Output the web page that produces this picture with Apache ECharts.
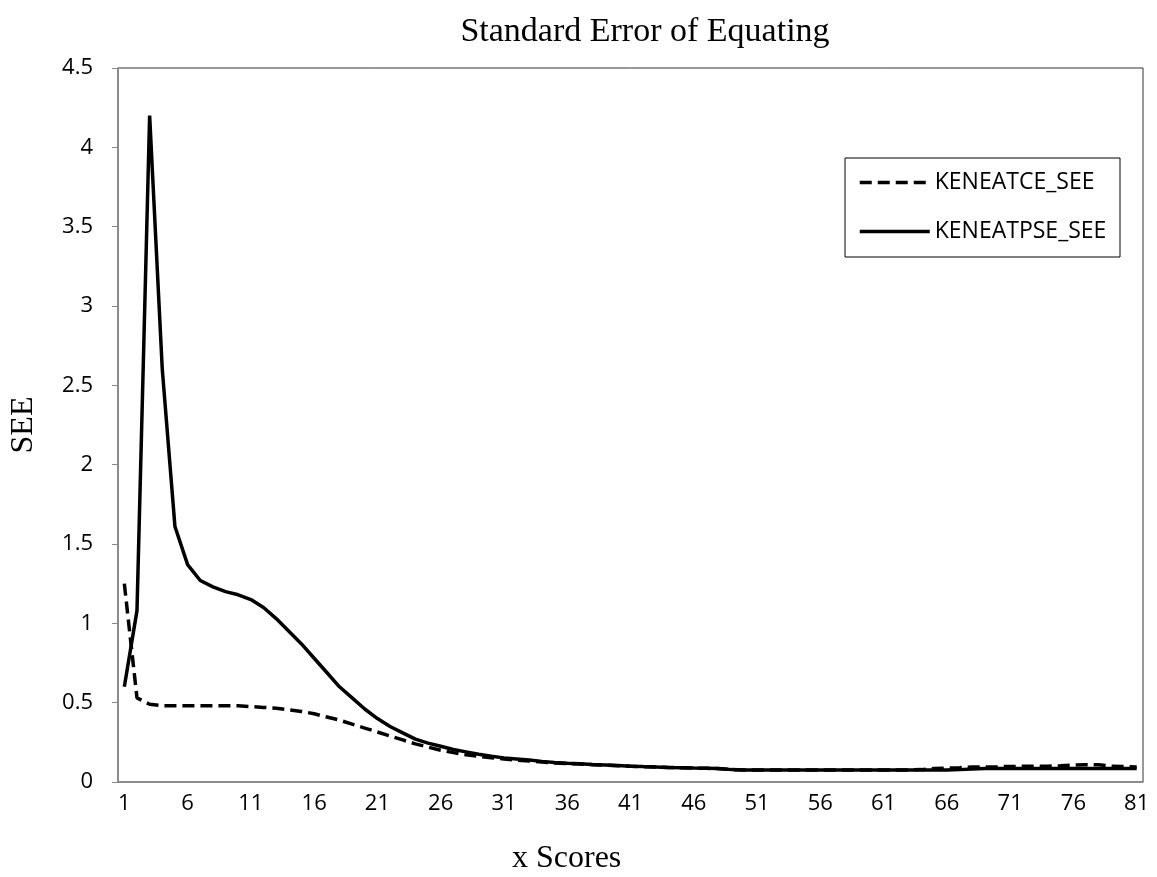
<!DOCTYPE html>
<html>
<head>
<meta charset="utf-8">
<title>Standard Error of Equating</title>
<script src="https://cdn.jsdelivr.net/npm/echarts@6/dist/echarts.min.js"></script>
<style>
  html, body { margin: 0; padding: 0; background: #fff; }
  #see-chart { width: 1157px; height: 877px; }
</style>
</head>
<body>
<div id="see-chart"></div>
<script>
// x scores 1..81
var xScores = [];
for (var i = 1; i <= 81; i++) xScores.push(String(i));

// KENEATCE_SEE (dashed)
var ceSEE = [
  1.25, 0.53, 0.49, 0.48, 0.48, 0.48, 0.48, 0.48, 0.48, 0.48,
  0.475, 0.47, 0.465, 0.455, 0.445, 0.43, 0.41, 0.39, 0.365, 0.34,
  0.315, 0.29, 0.265, 0.24, 0.22, 0.2, 0.185, 0.172, 0.162, 0.153,
  0.145, 0.138, 0.132, 0.126, 0.12, 0.116, 0.113, 0.109, 0.106, 0.103,
  0.1, 0.097, 0.094, 0.092, 0.09, 0.088, 0.086, 0.084, 0.078, 0.076,
  0.076, 0.076, 0.076, 0.076, 0.076, 0.076, 0.076, 0.076, 0.076, 0.076,
  0.076, 0.076, 0.076, 0.078, 0.085, 0.088, 0.09, 0.094, 0.095, 0.096,
  0.098, 0.099, 0.1, 0.1, 0.102, 0.106, 0.109, 0.108, 0.1, 0.098,
  0.095
];

// KENEATPSE_SEE (solid)
var pseSEE = [
  0.6, 1.08, 4.2, 2.6, 1.61, 1.37, 1.27, 1.23, 1.2, 1.18,
  1.15, 1.1, 1.03, 0.95, 0.87, 0.78, 0.69, 0.6, 0.53, 0.46,
  0.4, 0.35, 0.31, 0.27, 0.245, 0.225, 0.205, 0.19, 0.175, 0.162,
  0.152, 0.145, 0.138, 0.13, 0.123, 0.118, 0.115, 0.11, 0.107, 0.104,
  0.1, 0.097, 0.095, 0.092, 0.09, 0.088, 0.087, 0.085, 0.078, 0.076,
  0.076, 0.076, 0.076, 0.076, 0.076, 0.076, 0.076, 0.076, 0.076, 0.076,
  0.076, 0.076, 0.076, 0.076, 0.076, 0.076, 0.078, 0.082, 0.085, 0.085,
  0.085, 0.085, 0.085, 0.085, 0.085, 0.085, 0.085, 0.085, 0.085, 0.085,
  0.085
];

var chart = echarts.init(document.getElementById("see-chart"));
var option = {
  animation: false,
  backgroundColor: "#fff",
  title: {
    text: "Standard Error of Equating",
    left: 640,
    top: 10,
    textAlign: "center",
    textStyle: {
      fontFamily: "Liberation Serif",
      fontWeight: "normal",
      fontSize: 34,
      color: "#000"
    }
  },
  grid: {
    left: 116,
    right: 14,
    top: 68,
    bottom: 95,
    show: true,
    borderColor: "#333",
    borderWidth: 1
  },
  legend: {
    orient: "vertical",
    left: 858,
    top: 171,
    padding: 0,
    itemWidth: 70,
    itemHeight: 14,
    itemGap: 26,
    itemStyle: { opacity: 0 },
    lineStyle: { width: 3.5 },
    textStyle: {
      fontFamily: "Open Sans",
      fontSize: 23,
      color: "#000"
    },
    data: ["KENEATCE_SEE", "KENEATPSE_SEE"]
  },
  graphic: [
    {
      type: "rect",
      shape: { x: 845, y: 158, width: 275, height: 99 },
      style: { fill: null, stroke: "#000", lineWidth: 1 }
    },
    {
      type: "text",
      left: 512,
      top: 843,
      style: {
        text: "x Scores",
        font: "32px 'Liberation Serif'",
        fill: "#000"
      }
    }
  ],
  xAxis: {
    type: "category",
    data: xScores,
    boundaryGap: true,
    axisLine: { lineStyle: { color: "#888", width: 1.5 } },
    axisTick: { interval: 4, length: 6, lineStyle: { color: "#888" } },
    axisLabel: {
      interval: 4,
      margin: 11,
      fontFamily: "Open Sans",
      fontSize: 22,
      color: "#000"
    },
    splitLine: { show: false }
  },
  yAxis: {
    type: "value",
    min: 0,
    max: 4.5,
    interval: 0.5,
    name: "SEE",
    nameLocation: "middle",
    nameGap: 78,
    nameTextStyle: {
      fontFamily: "Liberation Serif",
      fontSize: 32,
      color: "#000"
    },
    axisLine: { show: true, lineStyle: { color: "#888", width: 1.5 } },
    axisTick: { show: true, length: 6, lineStyle: { color: "#888" } },
    axisLabel: {
      margin: 25,
      fontFamily: "Open Sans",
      fontSize: 22,
      color: "#000"
    },
    splitLine: { show: false }
  },
  series: [
    {
      name: "KENEATCE_SEE",
      type: "line",
      data: ceSEE,
      symbol: "none",
      lineStyle: { color: "#000", width: 3.5, type: [12, 6] },
      itemStyle: { color: "#000" }
    },
    {
      name: "KENEATPSE_SEE",
      type: "line",
      data: pseSEE,
      symbol: "none",
      lineStyle: { color: "#000", width: 3.5, type: "solid" },
      itemStyle: { color: "#000" }
    }
  ]
};
chart.setOption(option);
</script>
</body>
</html>
